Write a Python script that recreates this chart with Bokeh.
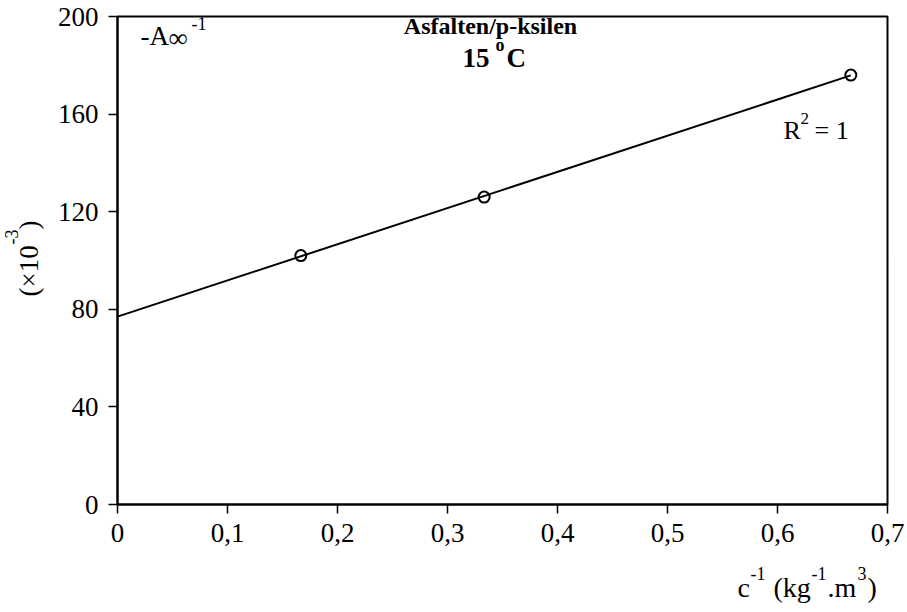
import numpy as np
from bokeh.plotting import figure
from bokeh.models import FixedTicker, Label, LinearAxis, BoxAnnotation
from bokeh.embed import file_html
from bokeh.resources import INLINE

# ---- data ----
c_inv = [1/6, 1/3, 2/3]
inv_A = [102, 126, 176]
x_ticks = [0, 0.1, 0.2, 0.3, 0.4, 0.5, 0.6, 0.7]
x_tick_labels = ["0", "0,1", "0,2", "0,3", "0,4", "0,5", "0,6", "0,7"]
y_ticks = [0, 40, 80, 120, 160, 200]

slope, intercept = np.polyfit(c_inv, inv_A, 1)
fit_x = [0, c_inv[-1]]
fit_y = [intercept + slope * v for v in fit_x]

FONT = "Liberation Serif"

# plot-box geometry (canvas px) and data limits of the box
L, R, T, B = 117, 887, 16, 504
W, H = 907, 612
X0, X1, Y0, Y1 = 0.0, 0.7, 0.0, 200.0


def dx(px):
    return X0 + (px - L) / (R - L) * (X1 - X0)


def dy(py):
    return Y0 + (B - py) / (B - T) * (Y1 - Y0)


# frame spans the whole canvas so that outside texts are not clipped
p = figure(width=W, height=H, x_range=(dx(0), dx(W)), y_range=(dy(H), dy(0)),
           output_backend="svg", toolbar_location=None,
           x_axis_location=None, y_axis_location=None,
           min_border_left=0, min_border_right=0,
           min_border_top=0, min_border_bottom=0)
p.background_fill_color = "white"
p.border_fill_color = "white"
p.outline_line_color = None
p.xgrid.visible = False
p.ygrid.visible = False

xaxis = LinearAxis(fixed_location=Y0, bounds=(X0, X1))
yaxis = LinearAxis(fixed_location=X0, bounds=(Y0, Y1))
for ax in (xaxis, yaxis):
    ax.axis_line_color = "black"
    ax.axis_line_width = 2
    ax.major_tick_line_color = "black"
    ax.major_tick_line_width = 1.5
    ax.major_tick_out = 9
    ax.major_tick_in = 0
    ax.minor_tick_line_color = None
    ax.major_label_text_font = FONT
    ax.major_label_text_font_size = "27px"
    ax.major_label_text_color = "black"
xaxis.ticker = FixedTicker(ticks=x_ticks)
xaxis.major_label_overrides = {t: s for t, s in zip(x_ticks, x_tick_labels)}
xaxis.major_label_standoff = 10
yaxis.ticker = FixedTicker(ticks=y_ticks)
yaxis.major_label_standoff = 10
p.add_layout(xaxis, "below")
p.add_layout(yaxis, "left")

p.add_layout(BoxAnnotation(left=X0, right=X1, bottom=Y0, top=Y1,
                           fill_alpha=0, line_color="black", line_alpha=1.0,
                           line_width=2))

p.line(fit_x, fit_y, line_color="black", line_width=2)
p.scatter(c_inv, inv_A, marker="circle", size=11, fill_color=None,
          line_color="black", line_width=2)


def lab(text, px, py, size, bold=False, vertical=False, align="left"):
    shift = 0.37 * size
    if vertical:
        x, y, ang = dx(px - shift), dy(py), np.pi / 2
    else:
        x, y, ang = dx(px), dy(py - shift), 0.0
    p.add_layout(Label(x=x, y=y, text=text, text_font=FONT,
                       text_font_size=f"{size}px",
                       text_font_style="bold" if bold else "normal",
                       text_color="black", angle=ang,
                       text_align=align, text_baseline="alphabetic"))


# top-left label: -A∞^-1
lab("-A", 140, 45, 27)
lab("\u221e", 168, 47, 27)
lab("-1", 191, 30, 18)

# title
lab("Asfalten/p-ksilen", 490, 34, 24, bold=True, align="center")
lab("15", 462, 67, 27, bold=True)
lab("o", 495, 51, 18, bold=True)
lab("C", 506, 67, 27, bold=True)

# R^2 = 1
lab("R", 783, 140, 26)
lab("2", 800, 124, 17)
lab("= 1", 814, 140, 26)

# x-axis title: c^-1 (kg^-1.m^3)
lab("c", 737, 597, 28)
lab("-1", 750, 580, 18)
lab("(kg", 773, 597, 28)
lab("-1", 811, 580, 18)
lab(".m", 827, 597, 28)
lab("3", 857, 580, 18)
lab(")", 867, 597, 28)

# y-axis title: (×10^-3), rotated
lab("(\u00d710", 38, 296, 27, vertical=True)
lab("-3", 18, 244, 18, vertical=True)
lab(")", 38, 229, 27, vertical=True)

open("out.html", "w").write(file_html(p, INLINE))
